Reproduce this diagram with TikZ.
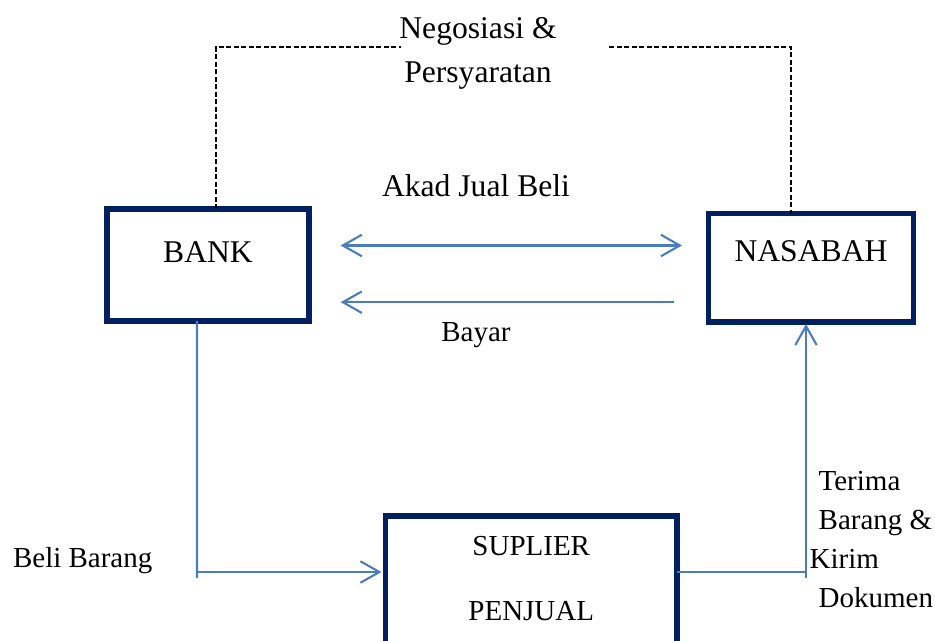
\documentclass[tikz,border=0pt]{standalone}
\usepackage{fontspec}
\setmainfont{Liberation Serif}
\usetikzlibrary{arrows.meta}
\definecolor{biruTua}{RGB}{0,32,96}
\definecolor{biruGaris}{RGB}{74,126,187}
\newcommand{\hurufBesar}{\fontsize{18}{24.5}\selectfont}
\newcommand{\hurufKecil}{\fontsize{16.5}{22.1}\selectfont}

\begin{document}
\begin{tikzpicture}[x=0.02cm, y=-0.02cm,
    >={Straight Barb[length=0.38cm, width=0.43cm]},
    kotak/.style={draw=biruTua, line width=3.2pt, outer sep=0pt, inner ysep=0pt, anchor=north},
    panah/.style={draw=biruGaris, line width=1.2pt},
    garisputus/.style={draw=black, line width=0.8pt, dash pattern=on 0.1cm off 0.05cm},
    teks/.style={inner sep=0pt}]
    \useasboundingbox (0,0) rectangle (935,640);
    \clip (0,0) rectangle (935,640);

    % Kotak para pihak
    \node[kotak, minimum width=4.04cm, text height=1.06cm, text depth=1.18cm, font=\hurufBesar] (bank) at (208,209) {BANK};
    \node[kotak, minimum width=4.1cm, text height=0.964cm, text depth=1.206cm, font=\hurufBesar] (nasabah) at (811,213.5) {NASABAH};
    \node[kotak, minimum width=5.83cm, text height=2.094cm, text depth=2cm, align=center, font=\fontsize{16.5}{37.3}\selectfont] (suplier) at (531.25,516) {SUPLIER\\PENJUAL};

    % Keterangan
    \node[teks, anchor=base, align=center, font=\hurufBesar] (negosiasi) at (478,82) {Negosiasi \&\\Persyaratan};
    \node[teks, anchor=base, font=\hurufBesar] (akad) at (476,196.7) {Akad Jual Beli};
    \node[teks, anchor=base, font=\hurufKecil] (bayar) at (476,341.7) {Bayar};
    \node[teks, anchor=base west, font=\hurufKecil] (beli) at (12.7,567.7) {Beli Barang};
    \node[teks, anchor=base west, align=left, font=\hurufKecil] (terima) at (809.3,607)
        {\hspace*{0.18cm}Terima\\\hspace*{0.18cm}Barang \&\\Kirim\\\hspace*{0.18cm}Dokumen};

    % Negosiasi (garis putus-putus)
    \coordinate (putusKiri) at (401,47);
    \coordinate (putusKanan) at (609,47);
    \draw[garisputus] ([xshift=0.16cm]bank.north) |- (putusKiri);
    \draw[garisputus] (putusKanan) -| ([xshift=-0.4cm]nasabah.north);

    % Akad dan bayar
    \draw[panah, <->, shorten <=0.634cm, shorten >=0.53cm]
        ([yshift=0.39cm]bank.east) -- ([yshift=0.39cm]bank.east -| nasabah.west);
    \draw[panah, ->, shorten <=0.69cm, shorten >=0.634cm]
        ([yshift=-0.744cm]bank.east -| nasabah.west) -- ([yshift=-0.744cm]bank.east);

    % Beli barang dan kirim barang
    \coordinate (sikuKiri) at (197,578);
    \coordinate (sikuKanan) at (806,578);
    \draw[panah] ([xshift=-0.22cm]bank.south) -- (sikuKiri);
    \draw[panah, ->, shorten >=0.08cm] ([yshift=0.12cm]sikuKiri) -- ([yshift=0.12cm]sikuKiri -| suplier.west);
    \draw[panah] ([yshift=0.12cm]sikuKanan -| suplier.east) -- ([yshift=0.12cm]sikuKanan);
    \draw[panah, ->, shorten >=0.04cm] (sikuKanan) -- (sikuKanan |- nasabah.south);
\end{tikzpicture}
\end{document}
